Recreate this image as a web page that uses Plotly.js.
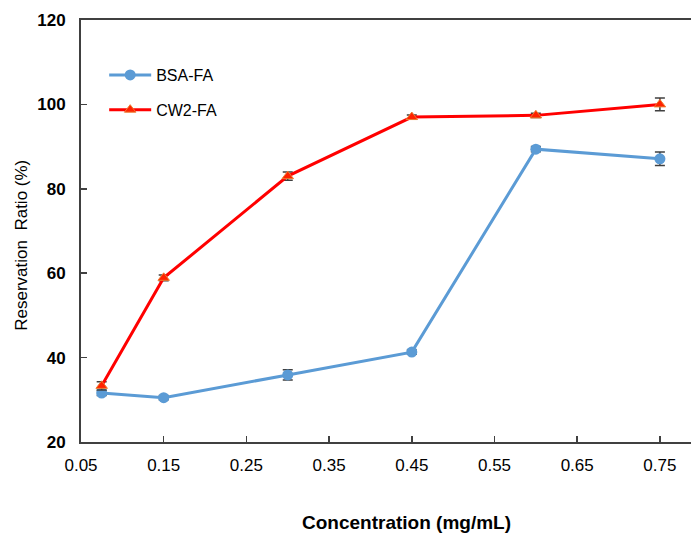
<!DOCTYPE html>
<html>
<head>
<meta charset="utf-8">
<script src="https://cdn.plot.ly/plotly-3.0.1.min.js"></script>
<style>html,body{margin:0;padding:0;background:#fff;overflow:hidden;}</style>
</head>
<body>
<div id="chart" style="width:691px;height:533px;"></div>
<script>
const concentration = [0.075, 0.15, 0.3, 0.45, 0.6, 0.75];
const bsaFA = [31.6, 30.5, 35.9, 41.3, 89.4, 87.1];
const bsaErr = [0.6, 0.5, 1.2, 0.5, 0.6, 1.6];
const cw2FA = [33.3, 58.9, 83.0, 97.0, 97.4, 100.0];
const cw2Err = [1.0, 0.7, 1.0, 0.5, 0.5, 1.5];
const xTicks = [0.05, 0.15, 0.25, 0.35, 0.45, 0.55, 0.65, 0.75];
const yTicks = [20, 40, 60, 80, 100, 120];

const traces = [
  {
    x: concentration, y: bsaFA, name: 'BSA-FA', type: 'scatter', mode: 'lines+markers',
    legendgroup: 'a',
    line: {color: '#5B9BD5', width: 3},
    marker: {symbol: 'circle', size: 11, color: '#5B9BD5'},
    error_y: {type: 'data', array: bsaErr, visible: true, color: '#404040', thickness: 1.5, width: 5}
  },
  {
    x: concentration, y: cw2FA, name: 'CW2-FA', type: 'scatter', mode: 'lines+markers',
    legendgroup: 'b',
    line: {color: '#FF0000', width: 3},
    marker: {symbol: 'triangle-up', size: 10, color: '#FF2200', line: {color: '#ED7D31', width: 1}},
    error_y: {type: 'data', array: cw2Err, visible: true, color: '#404040', thickness: 1.5, width: 5}
  }
];

const layout = {
  width: 691, height: 533,
  margin: {l: 81, r: 0, t: 20, b: 91},
  paper_bgcolor: '#fff', plot_bgcolor: '#fff',
  font: {family: 'Liberation Sans, Arial, sans-serif', color: '#000'},
  showlegend: true,
  legend: {
    x: 0.038, y: 0.91, xanchor: 'left', yanchor: 'top',
    bgcolor: 'rgba(0,0,0,0)', font: {size: 16, color: '#000'},
    traceorder: 'grouped', tracegroupgap: 11, itemwidth: 42
  },
  xaxis: {
    range: [0.05, 0.7876],
    tickvals: xTicks, ticktext: xTicks.map(v => v.toFixed(2)),
    ticks: 'inside', ticklen: 6, tickcolor: '#404040', tickwidth: 1.5,
    showline: true, linecolor: '#404040', linewidth: 2, mirror: true,
    showgrid: false, zeroline: false,
    tickfont: {size: 17, color: '#000'},
    ticklabelstandoff: 7
  },
  yaxis: {
    range: [20, 120],
    tickvals: yTicks,
    ticks: 'inside', ticklen: 6, tickcolor: '#404040', tickwidth: 1.5,
    showline: true, linecolor: '#404040', linewidth: 2,
    showgrid: false, zeroline: false,
    tickfont: {size: 17, color: '#000', weight: 'bold'},
    ticklabelstandoff: 10
  },
  annotations: [
    {text: '<b>Concentration (mg/mL)</b>', xref: 'paper', yref: 'paper', x: 0.533, y: -0.19,
     xanchor: 'center', yanchor: 'middle', showarrow: false, font: {size: 19, color: '#000'}},
    {text: 'Reservation  Ratio (%)', xref: 'paper', yref: 'paper', x: -0.097, y: 0.467,
     xanchor: 'center', yanchor: 'middle', textangle: -90, showarrow: false, font: {size: 17, color: '#000'}}
  ]
};

Plotly.newPlot('chart', traces, layout, {displayModeBar: false, staticPlot: true});
</script>
</body>
</html>
